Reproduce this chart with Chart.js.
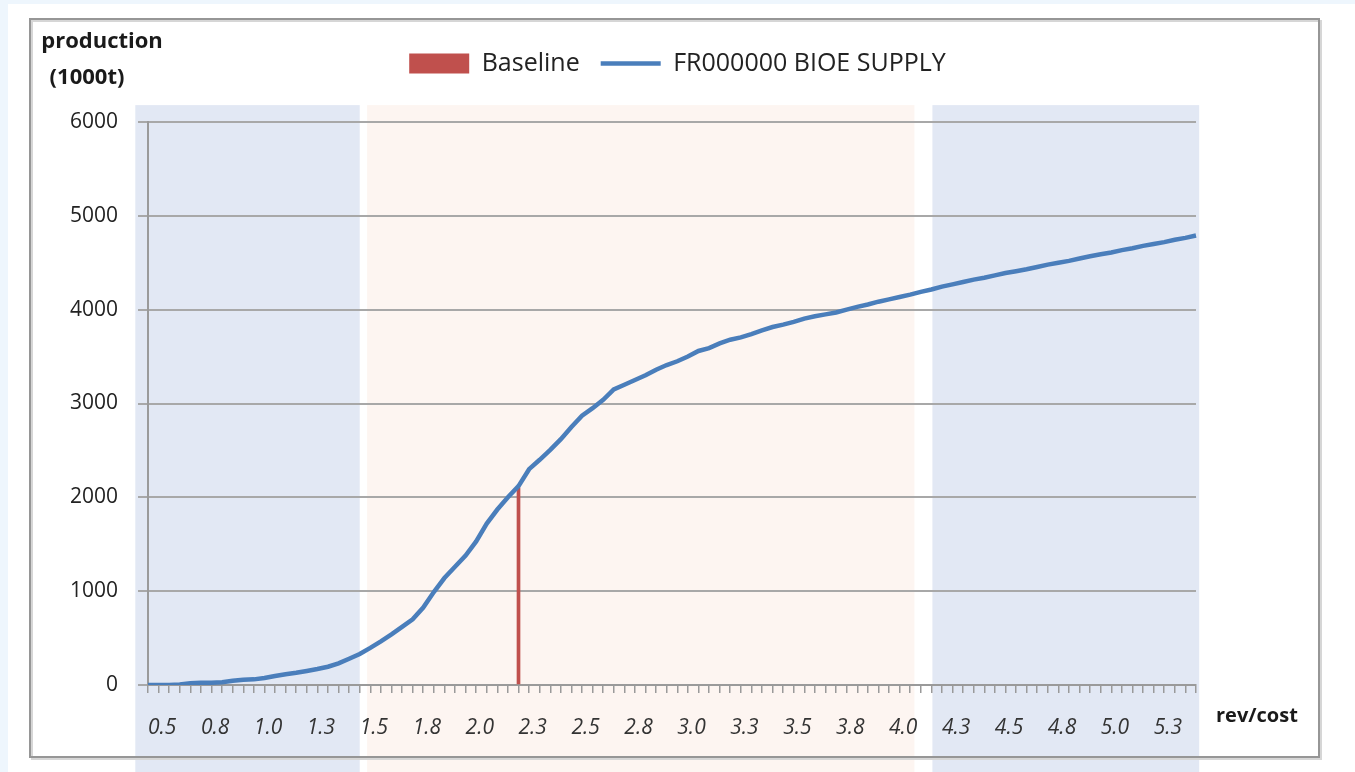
<!DOCTYPE html>
<html>
<head>
<meta charset="utf-8">
<script src="https://cdn.jsdelivr.net/npm/chart.js@4.4.1/dist/chart.umd.min.js"></script>
<style>
  html, body { margin: 0; padding: 0; background: #eef6fd; }
  #wrap { position: absolute; left: 0; top: 0; width: 1355px; height: 772px; }
</style>
</head>
<body>
<div id="wrap"><canvas id="supplyChart" width="1355" height="772"></canvas></div>
<script>
// rev/cost categories (one per tick on the x axis)
const revCost = [
  0.50, 0.55, 0.60, 0.65, 0.70, 0.75, 0.80, 0.85, 0.90, 0.95,
  1.00, 1.05, 1.10, 1.15, 1.20, 1.25, 1.30, 1.35, 1.40, 1.45,
  1.50, 1.55, 1.60, 1.65, 1.70, 1.75, 1.80, 1.85, 1.90, 1.95,
  2.00, 2.05, 2.10, 2.15, 2.20, 2.25, 2.30, 2.35, 2.40, 2.45,
  2.50, 2.55, 2.60, 2.65, 2.70, 2.75, 2.80, 2.85, 2.90, 2.95,
  3.00, 3.05, 3.10, 3.15, 3.20, 3.25, 3.30, 3.35, 3.40, 3.45,
  3.50, 3.55, 3.60, 3.65, 3.70, 3.75, 3.80, 3.85, 3.90, 3.95,
  4.00, 4.05, 4.10, 4.15, 4.20, 4.25, 4.30, 4.35, 4.40, 4.45,
  4.50, 4.55, 4.60, 4.65, 4.70, 4.75, 4.80, 4.85, 4.90, 4.95,
  5.00, 5.05, 5.10, 5.15, 5.20, 5.25, 5.30, 5.35, 5.40, 5.45
];

// production (1000t)
const supply = [
  0, 0, 0, 5, 20, 25, 25, 30, 45, 55,
  60, 75, 95, 115, 130, 150, 170, 195, 230, 280,
  330, 395, 465, 540, 620, 700, 825, 990, 1140, 1260,
  1380, 1530, 1720, 1870, 2000, 2120, 2300, 2400, 2505, 2620,
  2750, 2870, 2950, 3040, 3150, 3200, 3250, 3300, 3360, 3410,
  3450, 3500, 3560, 3590, 3640, 3680, 3705, 3740, 3780, 3815,
  3840, 3870, 3905, 3930, 3950, 3970, 4000, 4030, 4055, 4085,
  4110, 4135, 4160, 4190, 4215, 4245, 4270, 4295, 4320, 4340,
  4365, 4390, 4410, 4430, 4455, 4480, 4500, 4520, 4545, 4570,
  4590, 4610, 4635, 4655, 4680, 4700, 4720, 4745, 4765, 4790
];

// labels shown every 5th category
const tickLabels = ['0.5', '0.8', '1.0', '1.3', '1.5', '1.8', '2.0', '2.3', '2.5', '2.8',
                    '3.0', '3.3', '3.5', '3.8', '4.0', '4.3', '4.5', '4.8', '5.0', '5.3'];

const yTicks = [0, 1000, 2000, 3000, 4000, 5000, 6000];

const baselineAt = 2.25;
const baselineValue = 2100;

// shaded rev/cost ranges behind the plot
const blueBands = [[0.44, 1.50], [4.205, 5.465]];
const peachBands = [[1.535, 4.12]];

const FONT = "'Open Sans', sans-serif";

// --- helpers ---
function revToPixel(scale, v) {
    const idx = (v - revCost[0]) / (revCost[1] - revCost[0]);
    return scale.getPixelForValue(idx);
}

// page, shaded bands and chart frame
const backdrop = {
    id: 'backdrop',
    beforeDraw(chart) {
        const { ctx, width, height, scales: { x, y } } = chart;
        ctx.save();
        ctx.fillStyle = '#eef6fd';
        ctx.fillRect(0, 0, width, height);
        ctx.fillStyle = '#ffffff';
        ctx.fillRect(8, 4, width - 8, height - 4);

        const top = y.getPixelForValue(6180);
        const paint = (list, color) => list.forEach(([a, b]) => {
            const x0 = revToPixel(x, a), x1 = revToPixel(x, b);
            ctx.fillStyle = color;
            ctx.fillRect(x0, top, x1 - x0, height - top);
        });
        paint(blueBands, '#e2e8f4');
        paint(peachBands, '#fdf5f1');

        ctx.lineWidth = 2;
        ctx.strokeStyle = '#d6d6d6';
        ctx.strokeRect(32, 21, 1289, 738);
        ctx.strokeStyle = '#969696';
        ctx.strokeRect(30, 19, 1289, 738);
        ctx.restore();
    },
    afterDraw(chart) {
        const { ctx } = chart;
        ctx.save();
        ctx.fillStyle = '#1a1a1a';
        ctx.textBaseline = 'middle';
        ctx.font = `bold 22px ${FONT}`;
        ctx.textAlign = 'center';
        ctx.fillText('production', 102, 42);
        ctx.fillText('(1000t)', 87, 78);
        ctx.textAlign = 'left';
        ctx.font = `bold 20px ${FONT}`;
        ctx.fillText('rev/cost', 1216, 716);
        ctx.restore();
    }
};

// extra room between legend and plot
const legendGap = {
    id: 'legendGap',
    beforeInit(chart) {
        const fit = chart.legend.fit;
        chart.legend.fit = function () {
            fit.call(this);
            this.height += 36;
        };
    }
};

const ctx = document.getElementById('supplyChart').getContext('2d');
const myChart = new Chart(ctx, {
    type: 'line',
    data: {
        labels: revCost,
        datasets: [
            {
                type: 'bar',
                label: 'Baseline',
                data: revCost.map(v => Math.abs(v - baselineAt) < 1e-6 ? baselineValue : null),
                backgroundColor: '#c0504d',
                borderWidth: 0,
                barThickness: 3,
                pointStyle: 'rect',
                order: 2
            },
            {
                type: 'line',
                label: 'FR000000 BIOE SUPPLY',
                data: supply,
                borderColor: '#4a7ebb',
                backgroundColor: '#4a7ebb',
                borderWidth: 4.5,
                pointRadius: 0,
                pointStyle: 'line',
                tension: 0,
                order: 1
            }
        ]
    },
    options: {
        responsive: false,
        animation: false,
        devicePixelRatio: 1,
        layout: { padding: { top: 30, bottom: 35, left: 0, right: 0 } },
        plugins: {
            tooltip: { enabled: false },
            legend: {
                position: 'top',
                labels: {
                    usePointStyle: true,
                    pointStyleWidth: 60,
                    boxHeight: 20,
                    padding: 21,
                    color: '#222',
                    font: { family: FONT, size: 25 },
                    sort: (a, b) => a.datasetIndex - b.datasetIndex
                }
            }
        },
        scales: {
            x: {
                type: 'category',
                offset: false,
                border: { display: true, color: '#9a9a9a', width: 2 },
                grid: { display: true, drawOnChartArea: false, drawTicks: true, tickLength: 8,
                        color: '#9a9a9a', lineWidth: 1.5, offset: false },
                ticks: {
                    autoSkip: false, maxRotation: 0, minRotation: 0, align: 'start', padding: 22,
                    color: '#333', font: { family: FONT, size: 21, style: 'italic' },
                    callback: (val, i) => i % 5 === 0 ? tickLabels[i / 5] : ''
                },
                afterFit: s => { s.height = 52; }
            },
            y: {
                position: 'left',
                min: 0,
                max: 6000,
                border: { display: true, color: '#9a9a9a', width: 2 },
                grid: { color: '#a8a8a8', lineWidth: 2, tickLength: 10 },
                afterBuildTicks: s => { s.ticks = yTicks.map(v => ({ value: v })); },
                ticks: {
                    padding: 20, color: '#222', font: { family: FONT, size: 21 },
                    callback: v => String(v)
                },
                afterFit: s => { s.width = 148; }
            },
            yR: {
                position: 'right',
                display: true,
                grid: { display: false },
                border: { display: false },
                ticks: { display: false },
                afterFit: s => { s.width = 159; }
            }
        }
    },
    plugins: [backdrop, legendGap]
});
</script>
</body>
</html>
